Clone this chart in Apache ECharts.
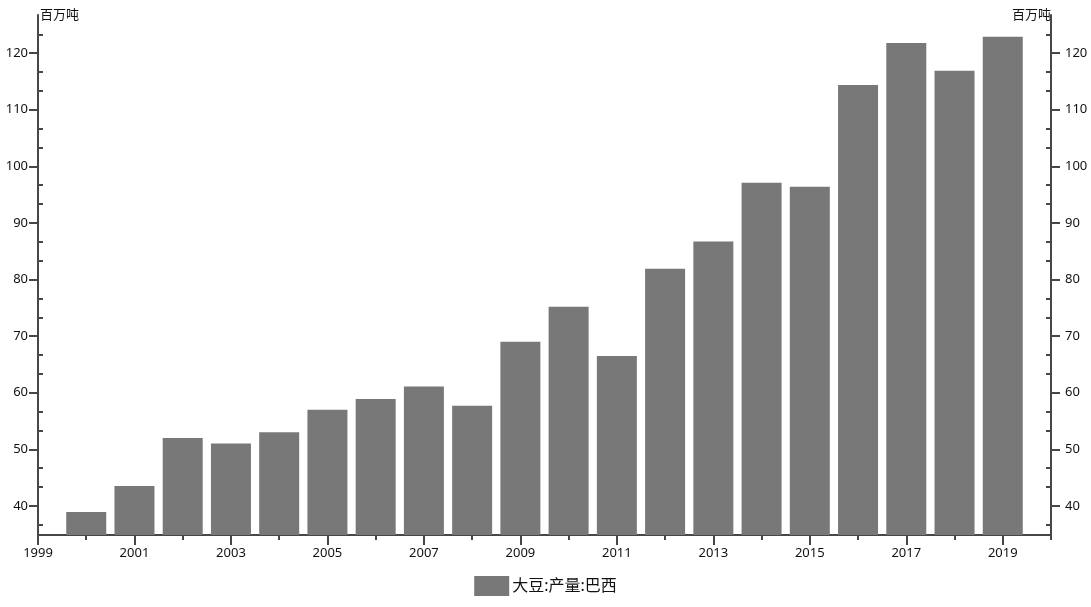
<!DOCTYPE html>
<html>
<head>
<meta charset="utf-8">
<script src="https://cdn.jsdelivr.net/npm/echarts@6/dist/echarts.min.js"></script>
<style>
html,body{margin:0;padding:0;background:#fff;}
#chart{width:1091px;height:607px;}
</style>
</head>
<body>
<div id="chart"></div>
<script>
var years = [2000,2001,2002,2003,2004,2005,2006,2007,2008,2009,2010,2011,2012,2013,2014,2015,2016,2017,2018,2019];
var production = [38.9,43.5,52.0,51.0,53.0,57.0,58.9,61.1,57.7,69.0,75.2,66.5,81.9,86.7,97.1,96.4,114.4,121.8,116.9,122.9];
var seriesName = '大豆:产量:巴西';
var unitName = '百万吨';
var yMajorTicks = [40,50,60,70,80,90,100,110,120];
var yMinorTicks = [36.667,43.333,46.667,53.333,56.667,63.333,66.667,73.333,76.667,83.333,86.667,93.333,96.667,103.333,106.667,113.333,116.667,123.333];
var xLabelYears = [1999,2001,2003,2005,2007,2009,2011,2013,2015,2017,2019];

var FONT = "'Noto Sans', 'Noto Sans CJK SC', sans-serif";
var AXIS = '#474747';
var Y_MIN = 34.85, Y_MAX = 126.75;

function majorY(pos, margin, nameAlign) {
  return {
    type: 'value', position: pos, min: Y_MIN, max: Y_MAX,
    name: unitName, nameLocation: 'end', nameGap: 0,
    nameTextStyle: {fontFamily: FONT, fontSize: 13, color: '#111', align: nameAlign, verticalAlign: 'middle', padding: nameAlign === 'left' ? [0,0,0,2] : [0,0,0,0]},
    axisLine: {show: true, lineStyle: {color: AXIS, width: 2}},
    axisTick: {show: true, inside: false, length: 9, customValues: yMajorTicks, lineStyle: {color: AXIS, width: 2}},
    axisLabel: {show: true, margin: margin, customValues: yMajorTicks, fontFamily: FONT, fontSize: 13, color: '#111'},
    splitLine: {show: false}
  };
}
function minorY(pos) {
  return {
    type: 'value', position: pos, min: Y_MIN, max: Y_MAX,
    axisLine: {show: false},
    axisTick: {show: true, inside: true, length: 5, customValues: yMinorTicks, lineStyle: {color: AXIS, width: 2}},
    axisLabel: {show: false},
    splitLine: {show: false}
  };
}

var data = years.map(function (y, i) { return [y, production[i]]; });

var chart = echarts.init(document.getElementById('chart'), null, {renderer: 'canvas'});
chart.setOption({
  animation: false,
  backgroundColor: '#fff',
  grid: {left: 38, right: 40, top: 15, bottom: 72, containLabel: false},
  xAxis: [
    {
      type: 'value', position: 'bottom', min: 1999, max: 2020, interval: 1,
      axisLine: {show: true, lineStyle: {color: AXIS, width: 2}},
      axisTick: {show: true, length: 5, lineStyle: {color: AXIS, width: 2}},
      axisLabel: {show: false},
      splitLine: {show: false}
    },
    {
      type: 'value', position: 'bottom', min: 1999, max: 2020,
      axisLine: {show: false},
      axisTick: {show: true, length: 10, customValues: xLabelYears, lineStyle: {color: AXIS, width: 2}},
      axisLabel: {show: true, margin: 12, customValues: xLabelYears, fontFamily: FONT, fontSize: 13, color: '#111',
        formatter: function (v) { return String(v); }},
      splitLine: {show: false}
    }
  ],
  yAxis: [majorY('left', 10, 'left'), minorY('left'), majorY('right', 14, 'right'), minorY('right')],
  legend: {
    show: true, bottom: 6, left: 'center', icon: 'rect', itemWidth: 35, itemHeight: 20, itemGap: 10,
    textStyle: {fontFamily: FONT, fontSize: 16, color: '#111', padding: [0,0,0,-2]},
    data: [seriesName]
  },
  series: [{
    name: seriesName, type: 'bar', xAxisIndex: 0, yAxisIndex: 0,
    barWidth: 40, data: data,
    itemStyle: {color: '#787878'}
  }]
});
</script>
</body>
</html>
